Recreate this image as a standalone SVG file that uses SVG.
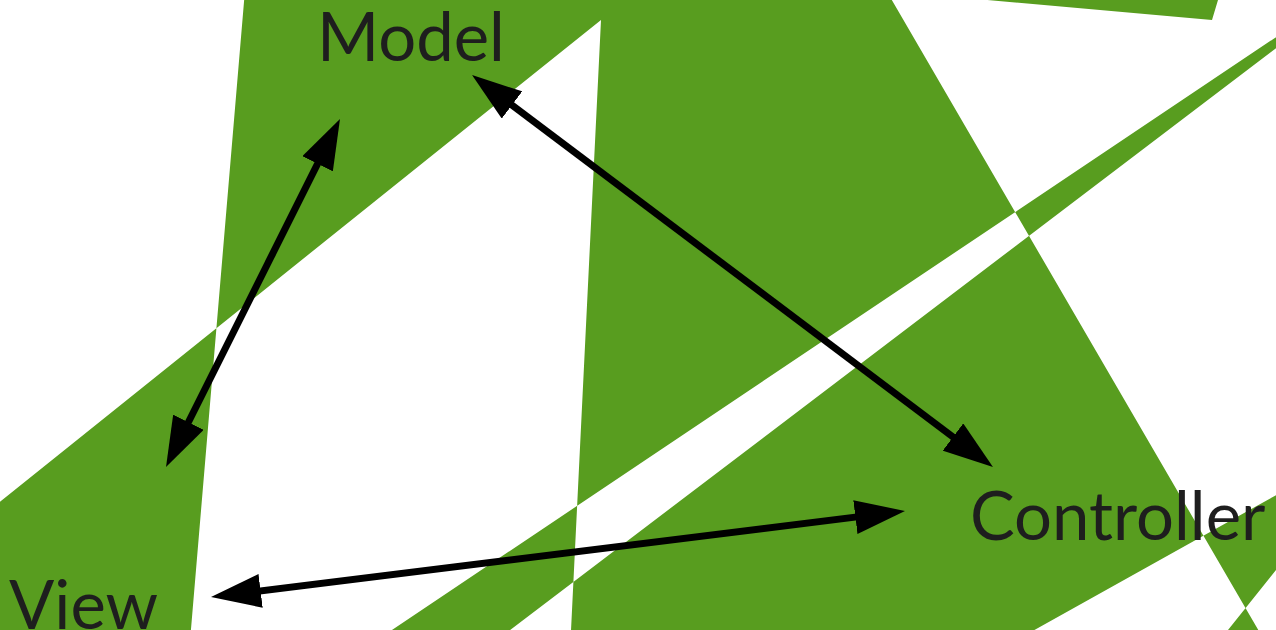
<svg xmlns="http://www.w3.org/2000/svg" width="1276" height="630" viewBox="0 0 1276 630">
  <style>
    .bg { fill: #589d1f; fill-rule: evenodd; stroke: none; }
    .label { font-family: Lato, "Liberation Sans", sans-serif; font-size: 67px; fill: #1e1e1e; }
    .conn { stroke: #000; stroke-width: 7; fill: none; marker-start: url(#head); marker-end: url(#head); }
  </style>
  <defs>
    <marker id="head" markerUnits="userSpaceOnUse" markerWidth="50" markerHeight="34" viewBox="0 0 50 34" refX="10" refY="17" orient="auto-start-reverse">
      <path d="M0,0 L50,17 L0,34 Z" fill="#000"/>
    </marker>
  </defs>
  <rect width="1276" height="630" fill="#fff"/>
  <path class="bg" d="
    M601,20 L567.6,700 L-100,700 L-100,582 Z
    M245,-10 L886,-10 L1299,700 L185,700 Z
    M1400,-46 L287.6,700 L418,700 Z
    M1400,426 L909,700 L1400,700 Z
    M1400,415 L1172,700 L1400,700 Z
    M875,-10 L1212,20 L1221,-10 Z"/>
  <g id="connectors">
    <line class="conn" x1="183.9" y1="431.2" x2="322.1" y2="154.8"/>
    <line class="conn" x1="504" y1="99" x2="961" y2="443"/>
    <line class="conn" x1="250.7" y1="592.1" x2="865.3" y2="515.9"/>
  </g>
  <g id="model"><text class="label" x="317" y="61">Model</text></g>
  <g id="controller"><text class="label" x="970" y="540">Controller</text></g>
  <g id="view"><text class="label" x="9" y="629">View</text></g>
</svg>
